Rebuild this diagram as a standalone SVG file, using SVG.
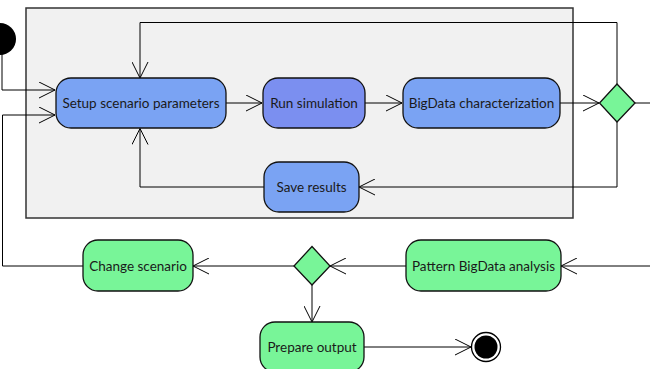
<svg xmlns="http://www.w3.org/2000/svg" width="650" height="369" viewBox="0 0 650 369">
<defs>
<marker id="arr" markerUnits="userSpaceOnUse" viewBox="0 0 17 17" refX="16" refY="8.5" markerWidth="17" markerHeight="17" orient="auto">
<path d="M0,0.5 L16,8.5 L0,16.5" fill="none" stroke="#000" stroke-width="1"/>
</marker>
<style>
.node{stroke:#111;stroke-width:1.3}
.blue{fill:#7aa3f3}
.purple{fill:#7b8ff0}
.green{fill:#78f598}
.lbl{font-family:Lato,"Open Sans","Liberation Sans",sans-serif;font-size:13.5px;fill:#1a1a1a;text-anchor:middle;dominant-baseline:central}
.con{fill:none;stroke:#000;stroke-width:1}
</style>
</defs>
<rect id="container" x="26" y="8" width="547" height="210" fill="#f1f1f1" stroke="#333" stroke-width="1.5"/>
<g id="connectors">
<path class="con" d="M2,52 V90 H55" marker-end="url(#arr)"/>
<path class="con" d="M83,266 H2.5 V115 H55" marker-end="url(#arr)"/>
<path class="con" d="M226,103 H262" marker-end="url(#arr)"/>
<path class="con" d="M365,103 H402" marker-end="url(#arr)"/>
<path class="con" d="M560,103 H599" marker-end="url(#arr)"/>
<path class="con" d="M635,103 H650"/>
<path class="con" d="M617,84 V22.5 H140 V78" marker-end="url(#arr)"/>
<path class="con" d="M617,122 V187 H359" marker-end="url(#arr)"/>
<path class="con" d="M264,187 H140 V128.5" marker-end="url(#arr)"/>
<path class="con" d="M650,266 H561" marker-end="url(#arr)"/>
<path class="con" d="M406,266 H330" marker-end="url(#arr)"/>
<path class="con" d="M294,266 H193" marker-end="url(#arr)"/>
<path class="con" d="M312,285 V322" marker-end="url(#arr)"/>
<path class="con" d="M364,347 H471" marker-end="url(#arr)"/>
</g>
<g id="start"><circle cx="0" cy="39" r="16" fill="#000"/></g>
<g id="setup"><rect class="node blue" x="56" y="78" width="170" height="50" rx="15"/><text class="lbl" x="141" y="103">Setup scenario parameters</text></g>
<g id="run"><rect class="node purple" x="263" y="78" width="102" height="50" rx="15"/><text class="lbl" x="314" y="103">Run simulation</text></g>
<g id="bigdata"><rect class="node blue" x="403" y="78" width="157" height="50" rx="15"/><text class="lbl" x="481.5" y="103">BigData characterization</text></g>
<g id="decision1"><polygon class="node green" points="617,84 635,103 617,122 599.5,103"/></g>
<g id="save"><rect class="node blue" x="264" y="162" width="95" height="50" rx="15"/><text class="lbl" x="311.5" y="187">Save results</text></g>
<g id="pattern"><rect class="node green" x="406" y="240" width="155" height="51" rx="15"/><text class="lbl" x="483.5" y="266">Pattern BigData analysis</text></g>
<g id="decision2"><polygon class="node green" points="312,246.5 330,266 312,285 294,266"/></g>
<g id="change"><rect class="node green" x="83" y="240" width="110" height="51" rx="15"/><text class="lbl" x="138" y="266">Change scenario</text></g>
<g id="prepare"><rect class="node green" x="260" y="322" width="104" height="50" rx="15"/><text class="lbl" x="312" y="347">Prepare output</text></g>
<g id="end"><circle cx="486" cy="347" r="14.5" fill="#fff" stroke="#000" stroke-width="1.3"/><circle cx="486" cy="347" r="11.5" fill="#000"/></g>
</svg>
